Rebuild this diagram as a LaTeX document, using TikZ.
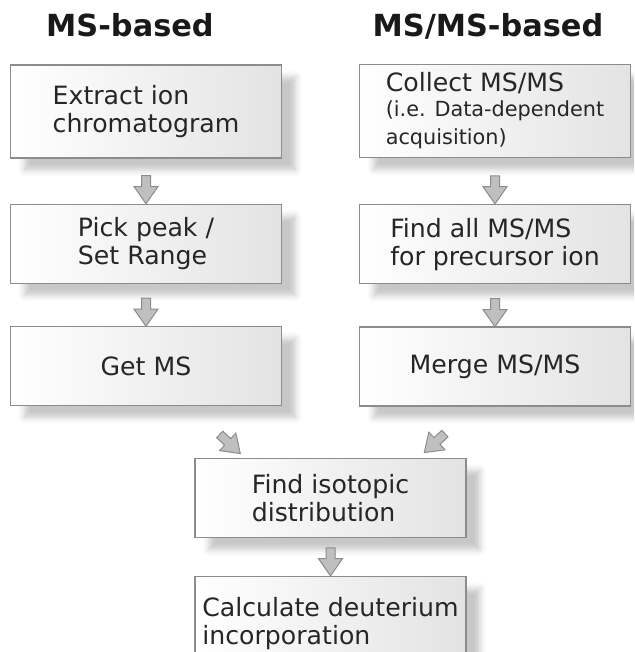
\documentclass[tikz,border=0pt]{standalone}
\usepackage{fontspec}
\setmainfont{DejaVu Sans}
\usetikzlibrary{positioning,shapes.arrows,shadows.blur}

\newcommand\smalltxt{\fontsize{10.4}{11.5}\selectfont}

\tikzset{
  stepbox/.style={draw=black!45, line width=0.6pt, left color=white,
    right color=black!11, text=black!85, inner sep=0pt,
    minimum width=135.5pt, minimum height=39.5pt, align=left,
    font=\fontsize{12.6}{14}\selectfont,
    blur shadow={shadow xshift=7pt, shadow yshift=-6pt,
      shadow blur radius=3pt, shadow opacity=22}},
  tallbox/.style={stepbox, minimum height=46.5pt},
  heading/.style={anchor=base, text=black!90,
    font=\bfseries\fontsize{15.2}{18}\selectfont},
  flow/.style={single arrow, draw=black!45, fill=black!25,
    line width=0.5pt, inner xsep=0pt, inner ysep=2pt,
    minimum height=14pt, minimum width=11.5pt,
    single arrow head extend=3.75pt, single arrow tip angle=70,
    sloped, allow upside down}
}

\begin{document}
\begin{tikzpicture}[x=0.5pt,y=-0.5pt]
  \useasboundingbox (0,0) rectangle (634,652);
  \clip (0,0) rectangle (634,652);
  % column headings
  \node [heading] (msh) at (130,37) {MS-based};
  \node [heading] (msmsh) at (488,37) {MS/MS-based};
  % MS-based column
  \node [tallbox] (extract) at (146,111.5) {Extract ion\\chromatogram};
  \node [stepbox, below=22.5pt of extract] (pick) {Pick peak /\\Set Range};
  \node [stepbox, below=21pt of pick] (getms) {Get MS};
  % MS/MS-based column
  \node [tallbox] (collect) at (495,111)
    {Collect MS/MS\\[-1.5pt]\smalltxt (i.e. Data-dependent\\
     \smalltxt acquisition)};
  \node [stepbox, below=23pt of collect] (findall)
    {Find all MS/MS\\for precursor ion};
  \node [stepbox, below=21pt of findall] (merge) {Merge MS/MS};
  % common steps
  \node [stepbox] (isotope) at (330.5,498) {Find isotopic\\distribution};
  \node [tallbox, below=19pt of isotope] (deut)
    {Calculate deuterium\\incorporation};
  % arrows
  \path (extract.south) -- node [flow, pos=0.62] {} (pick.north);
  \path (pick.south) -- node [flow, pos=0.6] {} (getms.north);
  \path (collect.south) -- node [flow, pos=0.62] {} (findall.north);
  \path (findall.south) -- node [flow, pos=0.6] {} (merge.north);
  \path ([xshift=21.5pt]getms.south)
    -- node [flow, pos=0.69] {} ([xshift=-42.75pt]isotope.north);
  \path ([xshift=-10.25pt]merge.south)
    -- node [flow, pos=0.67] {} ([xshift=44pt]isotope.north);
  \path (isotope.south) -- node [flow, pos=0.54] {} (deut.north);
\end{tikzpicture}
\end{document}
